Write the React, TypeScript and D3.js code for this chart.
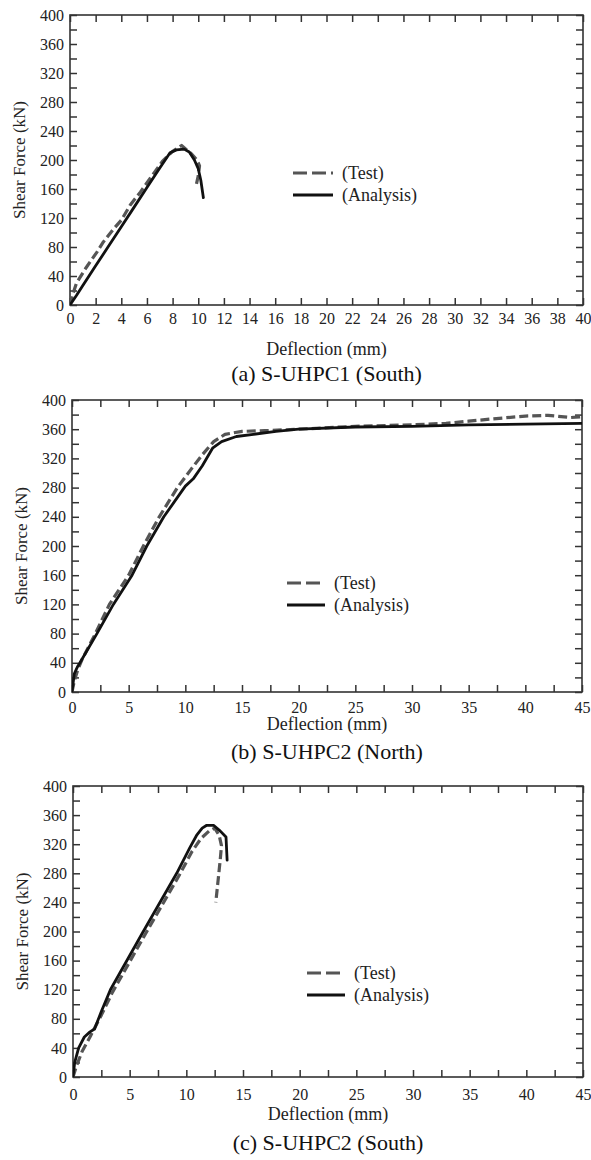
import { useEffect, useRef } from "react";
import * as d3 from "d3";

type Pt = [number, number];

// (a) S-UHPC1 (South)
const testA: Pt[] = [
  [0, 0], [0.2, 14], [0.5, 30], [1.2, 50], [2.1, 73], [2.6, 87], [3.4, 105],
  [4.0, 117], [4.7, 138], [5.5, 156], [6.3, 176], [7.2, 198], [8.0, 212],
  [8.7, 220], [9.1, 214], [9.5, 208], [9.9, 200], [10.1, 192], [10.0, 178], [9.8, 162],
];
const analysisA: Pt[] = [
  [0, 0], [0.5, 13], [1, 27], [2, 54], [3, 81], [4, 108], [5, 135], [6, 162],
  [7, 189], [7.8, 210], [8.3, 214], [8.9, 215], [9.3, 211], [9.7, 200],
  [10.0, 188], [10.2, 172], [10.4, 148],
];

// (b) S-UHPC2 (North)
const testB: Pt[] = [
  [0, 0], [0.2, 15], [0.5, 30], [0.9, 45], [2, 78], [3.3, 120], [5, 160],
  [6.3, 200], [7.7, 240], [9.3, 280], [10.5, 305], [11.5, 325], [12.5, 343],
  [13.5, 353], [15, 357], [17, 358], [20, 360], [25, 364], [30, 366], [33, 368],
  [35, 371], [37, 374], [40, 378], [42, 379], [44, 376], [45, 377],
];
const analysisB: Pt[] = [
  [0, 0], [0.2, 25], [0.5, 35], [0.7, 40], [2.2, 80], [3.65, 120], [5.3, 160],
  [6.6, 200], [8.1, 240], [10, 282], [10.7, 292], [11.5, 310], [12.4, 334],
  [13.2, 343], [14.5, 350], [16, 353], [18, 357], [20, 360], [25, 363],
  [30, 364], [35, 366], [40, 367], [45, 368],
];

// (c) S-UHPC2 (South)
const testC: Pt[] = [
  [0, 0], [0.3, 15], [0.8, 35], [1.5, 55], [2.5, 85], [3.5, 117], [6.4, 197],
  [9.4, 278], [10.5, 310], [11.3, 328], [12, 338], [12.5, 342], [12.9, 332],
  [13.1, 318], [13, 300], [12.8, 270], [12.6, 240],
];
const analysisC: Pt[] = [
  [0, 0], [0.15, 20], [0.5, 40], [1, 55], [1.5, 62], [1.9, 66], [2.5, 90],
  [3.3, 120], [6.2, 200], [9.15, 280], [10.3, 315], [10.9, 332], [11.4, 342],
  [11.8, 346], [12.4, 346], [13.0, 338], [13.5, 330], [13.6, 298],
];

const captions = ["(a) S-UHPC1 (South)", "(b) S-UHPC2 (North)", "(c) S-UHPC2 (South)"];
const legendLabels = ["(Test)", "(Analysis)"];
const yTicks = d3.range(0, 401, 20);
const xTicksA = d3.range(0, 41, 2);
const xTicksBC = d3.range(0, 45.1, 2.5);

const FONT = "Liberation Serif";

const panels = [
  {
    test: testA, analysis: analysisA, xMax: 40, xTicks: xTicksA, labelEvery: 2,
    left: 70, right: 583, top: 15, bottom: 305,
    labelDy: 19, titleDy: 50, captionDy: 76,
    legend: { x0: 293, x1: 333, y: 173 },
  },
  {
    test: testB, analysis: analysisB, xMax: 45, xTicks: xTicksBC, labelEvery: 5,
    left: 72, right: 582, top: 400, bottom: 692,
    labelDy: 21, titleDy: 38, captionDy: 67,
    legend: { x0: 287, x1: 325, y: 583 },
  },
  {
    test: testC, analysis: analysisC, xMax: 45, xTicks: xTicksBC, labelEvery: 5,
    left: 73, right: 583, top: 786, bottom: 1077,
    labelDy: 23, titleDy: 43, captionDy: 73,
    legend: { x0: 307, x1: 345, y: 973 },
  },
];

export default function App() {
  const ref = useRef<SVGSVGElement>(null);

  useEffect(() => {
    const svg = d3.select(ref.current);
    svg.selectAll("*").remove();

    panels.forEach((p, i) => {
      const x = d3.scaleLinear().domain([0, p.xMax]).range([p.left, p.right]);
      const y = d3.scaleLinear().domain([0, 400]).range([p.bottom, p.top]);
      const g = svg.append("g");

      const clipId = `clip-${i}`;
      svg.append("defs").append("clipPath").attr("id", clipId)
        .append("rect")
        .attr("x", p.left).attr("y", p.top - 5)
        .attr("width", p.right - p.left).attr("height", p.bottom - p.top + 5);

      const fmtX = (d: any) => (Math.abs(d / p.labelEvery - Math.round(d / p.labelEvery)) < 1e-6 ? String(d) : "");
      const fmtY = (d: any) => (d % 40 === 0 ? String(d) : "");

      const styleAxis = (sel: any) => {
        sel.attr("font-family", FONT);
        sel.select(".domain").remove();
        sel.selectAll("line").attr("stroke", "#333").attr("stroke-width", 1.5);
        sel.selectAll("text").attr("font-family", FONT).attr("font-size", 16).attr("fill", "#222");
      };

      g.append("g").attr("transform", `translate(${p.left},0)`)
        .call(d3.axisLeft(y).tickValues(yTicks).tickFormat(fmtY).tickSizeInner(-7).tickSizeOuter(0).tickPadding(6))
        .call(styleAxis);
      g.append("g").attr("transform", `translate(${p.right},0)`)
        .call(d3.axisRight(y).tickValues(yTicks).tickFormat(() => "").tickSizeInner(-7).tickSizeOuter(0))
        .call(styleAxis);
      const bAxis = g.append("g").attr("transform", `translate(0,${p.bottom})`)
        .call(d3.axisBottom(x).tickValues(p.xTicks).tickFormat(fmtX).tickSizeInner(-7).tickSizeOuter(0))
        .call(styleAxis);
      bAxis.selectAll("text").attr("y", p.labelDy).attr("dy", null);
      g.append("g").attr("transform", `translate(0,${p.top})`)
        .call(d3.axisTop(x).tickValues(p.xTicks).tickFormat(() => "").tickSizeInner(-7).tickSizeOuter(0))
        .call(styleAxis);

      g.append("rect")
        .attr("x", p.left).attr("y", p.top)
        .attr("width", p.right - p.left).attr("height", p.bottom - p.top)
        .attr("fill", "none").attr("stroke", "#333").attr("stroke-width", 1.6);

      const line = d3.line<Pt>().x((d) => x(d[0])).y((d) => y(d[1])).curve(d3.curveLinear);

      const curves = g.append("g").attr("clip-path", `url(#${clipId})`);
      curves.append("path").datum(p.test)
        .attr("d", line).attr("fill", "none")
        .attr("stroke", "#555").attr("stroke-width", 3.2)
        .attr("stroke-dasharray", "9,4").attr("stroke-linejoin", "round");
      curves.append("path").datum(p.analysis)
        .attr("d", line).attr("fill", "none")
        .attr("stroke", "#111").attr("stroke-width", 2.8)
        .attr("stroke-linejoin", "round").attr("stroke-linecap", "round");

      // legend
      const lg = g.append("g");
      lg.append("line")
        .attr("x1", p.legend.x0).attr("x2", p.legend.x1)
        .attr("y1", p.legend.y).attr("y2", p.legend.y)
        .attr("stroke", "#555").attr("stroke-width", 3.2).attr("stroke-dasharray", "14,5");
      lg.append("line")
        .attr("x1", p.legend.x0).attr("x2", p.legend.x1)
        .attr("y1", p.legend.y + 22).attr("y2", p.legend.y + 22)
        .attr("stroke", "#111").attr("stroke-width", 3);
      legendLabels.forEach((t, k) => {
        lg.append("text")
          .attr("x", p.legend.x1 + 9).attr("y", p.legend.y + k * 22)
          .attr("dy", "0.35em")
          .attr("font-family", FONT).attr("font-size", 18).attr("fill", "#222")
          .text(t);
      });

      const cx = (p.left + p.right) / 2;
      g.append("text")
        .attr("x", cx).attr("y", p.bottom + p.titleDy)
        .attr("text-anchor", "middle")
        .attr("font-family", FONT).attr("font-size", 18).attr("fill", "#222")
        .text("Deflection (mm)");
      g.append("text")
        .attr("transform", `translate(${p.left - 51},${(p.top + p.bottom) / 2}) rotate(-90)`)
        .attr("text-anchor", "middle").attr("dy", "0.35em")
        .attr("font-family", FONT).attr("font-size", 17).attr("fill", "#222")
        .text("Shear Force (kN)");
      g.append("text")
        .attr("x", cx).attr("y", p.bottom + p.captionDy)
        .attr("text-anchor", "middle")
        .attr("font-family", FONT).attr("font-size", 22).attr("fill", "#111")
        .text(captions[i]);
    });
  }, []);

  return (
    <div style={{ position: "absolute", left: 0, top: 0, width: 591, height: 1160, background: "#fff" }}>
      <svg ref={ref} width={591} height={1160} style={{ display: "block", fontFamily: FONT }} />
    </div>
  );
}
